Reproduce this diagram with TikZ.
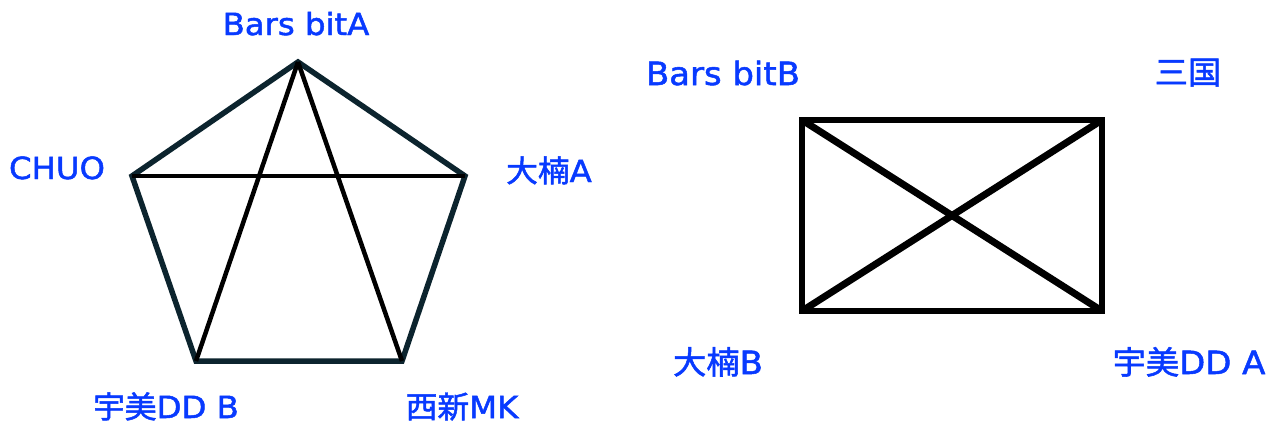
\documentclass[tikz,border=0pt]{standalone}
\usepackage{fontspec}
\setmainfont{DejaVu Sans}[FakeBold=1.6,FakeStretch=1.06]
\newfontfamily\cjk{Noto Sans CJK JP}[FakeBold=1.6,FakeStretch=1.04]
\definecolor{lbl}{RGB}{8,58,255}
\definecolor{penedge}{RGB}{12,36,46}
\begin{document}
\begin{tikzpicture}[x=1pt,y=-1pt,
  lab/.style={text=lbl,font=\fontsize{30.5}{30}\selectfont,inner sep=0pt,anchor=base},
  labR/.style={lab,font=\fontsize{32}{32}\selectfont},
  penline/.style={draw=penedge,line width=5.5pt,line join=miter},
  inline/.style={draw=black,line width=4.5pt},
  boxline/.style={draw=black,line width=6.5pt},
  crossline/.style={draw=black,line width=7pt}]
\useasboundingbox (0,0) rectangle (1269,423);
\fill[white] (0,0) rectangle (1269,423);
% pentagon vertices
\coordinate (T) at (298,62);
\coordinate (L) at (132,176);
\coordinate (R) at (465,176);
\coordinate (BL) at (196,361);
\coordinate (BR) at (402,361);
\draw[penline] (T) -- (R) -- (BR) -- (BL) -- (L) -- cycle;
\draw[inline] (L) -- (R);
\draw[inline] (T) -- (BL);
\draw[inline] (T) -- (BR);
% rectangle corners
\coordinate (RTL) at (802,120);
\coordinate (RTR) at (1102,120);
\coordinate (RBL) at (802,311);
\coordinate (RBR) at (1102,311);
\draw[boxline] (RTL) rectangle (RBR);
\draw[crossline] (RTL) -- (RBR);
\draw[crossline] (RBL) -- (RTR);
% labels
\node[lab] (bitA) at (296,35) {Bars bitA};
\node[lab] (chuo) at (57,179) {CHUO};
\node[lab] (ogA) at (549,182) {{\cjk 大楠}A};
\node[lab] (umiB) at (166,418) {{\cjk 宇美}DD B};
\node[lab] (nishi) at (462,418) {{\cjk 西新}MK};
\node[labR] (bitB) at (723,85) {Bars bitB};
\node[labR] (mik) at (1188,84) {{\cjk 三国}};
\node[labR] (ogB) at (718,374) {{\cjk 大楠}B};
\node[labR] (umiA) at (1189,374) {{\cjk 宇美}DD A};
\end{tikzpicture}
\end{document}
